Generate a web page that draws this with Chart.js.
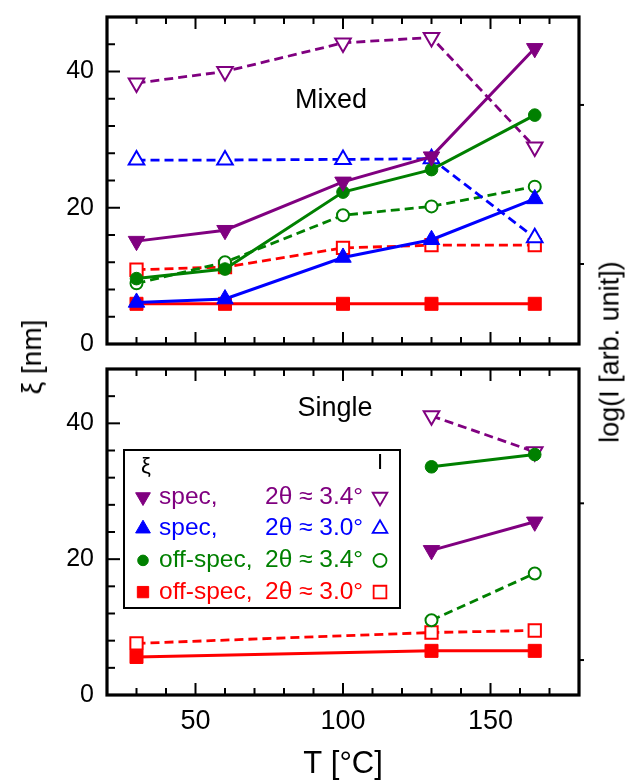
<!DOCTYPE html>
<html>
<head>
<meta charset="utf-8">
<script src="https://cdn.jsdelivr.net/npm/chart.js@4.4.1/dist/chart.umd.min.js"></script>
<style>
  html, body { margin: 0; padding: 0; background: #fff; }
  #wrap { position: relative; width: 631px; height: 783px; font-family: 'Liberation Sans', Arial, sans-serif; }
  .panel { position: absolute; left: 0; width: 631px; }
  #top { top: 0; height: 357px; }
  #bot { top: 357px; height: 426px; }
  .axlab { position: absolute; white-space: nowrap; color: #000; transform: translate(-50%, -50%) rotate(-90deg); }
</style>
</head>
<body>
<div id="wrap">
  <div class="panel" id="top"><canvas id="cTop"></canvas></div>
  <div class="panel" id="bot"><canvas id="cBot"></canvas></div>
  <div class="axlab" style="left:32px; top:357px; font-size:28px;">ξ [nm]</div>
  <div class="axlab" style="left:610px; top:352px; font-size:27px;">log(I [arb. unit])</div>
</div>
<script>
// temperatures (°C)
const T = [30, 60, 100, 130, 165];

// Mixed panel: xi (filled) and intensity (open)
const MIX_SPEC34 = [15.1, 16.7, 23.8, 27.5, 43.4];
const MIX_SPEC30 = [6.1, 6.6, 12.7, 15.3, 21.3];
const MIX_OFF34 = [9.6, 11.0, 22.3, 25.6, 33.6];
const MIX_OFF30 = [5.9, 5.9, 5.9, 5.9, 5.9];
const MIX_I_SPEC34 = [38.3, 40.0, 44.2, 45.0, 28.9];
const MIX_I_SPEC30 = [27.0, 27.0, 27.1, 27.2, 15.6];
const MIX_I_OFF34 = [8.9, 12.0, 18.9, 20.2, 23.1];
const MIX_I_OFF30 = [10.9, 11.3, 14.1, 14.5, 14.5];

// Single panel (null = not measured)
const SGL_SPEC34 = [null, null, null, 21.3, 25.5];
const SGL_OFF34 = [null, null, null, 33.6, 35.4];
const SGL_OFF30 = [5.6, null, null, 6.5, 6.5];
const SGL_I_SPEC34 = [null, null, null, 41.1, 35.8];
const SGL_I_OFF34 = [null, null, null, 11.0, 17.9];
const SGL_I_OFF30 = [7.6, null, null, 9.2, 9.5];

const X_RANGE = [20, 180];
const Y_RANGE = [0, 48];
const X_LABELS = [50, 100, 150];
const Y_LABELS = [0, 20, 40];
const RIGHT_TOP = [-0.503, 1.553];
const RIGHT_BOT = [-0.223, 1.857];

const FONT = "'Liberation Sans', Arial, sans-serif";

const STYLES = {
  spec34: { color: '#800080', pointStyle: 'triangle', rotation: 180 },
  spec30: { color: '#0000ff', pointStyle: 'triangle', rotation: 0 },
  off34:  { color: '#008000', pointStyle: 'circle', rotation: 0 },
  off30:  { color: '#ff0000', pointStyle: 'rect', rotation: 0 },
};
const FILLED_R = { triangle: 9.5, circle: 6.3, rect: 9.2 };
const OPEN_R = { triangle: 9, circle: 6, rect: 8.7 };

const LEGEND_ROWS = [
  { key: 'spec34', name: 'spec,', angle: '2θ ≈ 3.4°' },
  { key: 'spec30', name: 'spec,', angle: '2θ ≈ 3.0°' },
  { key: 'off34', name: 'off-spec,', angle: '2θ ≈ 3.4°' },
  { key: 'off30', name: 'off-spec,', angle: '2θ ≈ 3.0°' },
];

function series(vals, key, open) {
  const st = STYLES[key];
  return {
    data: T.map((x, i) => ({ x, y: vals[i] })).filter(p => p.y !== null),
    borderColor: st.color,
    backgroundColor: st.color,
    borderWidth: open ? 2.8 : 3,
    borderDash: open ? [9, 5] : [],
    pointStyle: st.pointStyle,
    pointRotation: st.rotation,
    pointRadius: (open ? OPEN_R : FILLED_R)[st.pointStyle],
    pointBackgroundColor: open ? '#fff' : st.color,
    pointBorderColor: st.color,
    pointBorderWidth: open ? 2 : 1,
    tension: 0,
    spanGaps: true,
    fill: false,
  };
}

function marker(ctx, st, x, y, r, open) {
  ctx.save();
  ctx.beginPath();
  if (st.pointStyle === 'circle') {
    ctx.arc(x, y, r, 0, Math.PI * 2);
  } else if (st.pointStyle === 'rect') {
    const s = r * Math.SQRT1_2;
    ctx.rect(x - s, y - s, 2 * s, 2 * s);
  } else {
    let a = st.rotation * Math.PI / 180;
    for (let k = 0; k < 3; k++) {
      const px = x + Math.sin(a) * r, py = y - Math.cos(a) * r;
      k ? ctx.lineTo(px, py) : ctx.moveTo(px, py);
      a += 2 * Math.PI / 3;
    }
    ctx.closePath();
  }
  ctx.strokeStyle = st.color;
  ctx.lineWidth = open ? 1.8 : 1;
  ctx.fillStyle = open ? '#fff' : st.color;
  ctx.fill();
  ctx.stroke();
  ctx.restore();
}

// frame with inward ticks, panel name, optional legend
const frameTicks = {
  id: 'frameTicks',
  afterDatasetsDraw(chart, args, opts) {
    const { ctx, chartArea: a, scales } = chart;
    const seg = (x1, y1, x2, y2) => { ctx.beginPath(); ctx.moveTo(x1, y1); ctx.lineTo(x2, y2); ctx.stroke(); };
    ctx.save();
    ctx.strokeStyle = '#000';
    ctx.lineWidth = 2;
    scales.x.ticks.forEach(t => {
      const px = scales.x.getPixelForValue(t.value);
      const len = X_LABELS.includes(t.value) ? 12 : 7;
      seg(px, a.bottom, px, a.bottom - len);
      seg(px, a.top, px, a.top + len);
    });
    scales.y.ticks.forEach(t => {
      const py = scales.y.getPixelForValue(t.value);
      const len = Y_LABELS.includes(t.value) ? 13 : 8;
      seg(a.left, py, a.left + len, py);
    });
    scales.yr.ticks.forEach(t => {
      const py = scales.yr.getPixelForValue(t.value);
      seg(a.right, py, a.right + 5, py);
    });
    ctx.lineWidth = 3.2;
    ctx.strokeRect(a.left, a.top, a.right - a.left, a.bottom - a.top);

    ctx.fillStyle = '#000';
    ctx.font = '27px ' + FONT;
    ctx.textAlign = 'center';
    ctx.textBaseline = 'middle';
    ctx.fillText(opts.text, opts.x, opts.y);

    if (opts.legend) {
      const L = opts.legend;
      ctx.lineWidth = 2;
      ctx.fillStyle = '#fff';
      ctx.fillRect(L.x, L.y, L.w, L.h);
      ctx.strokeRect(L.x, L.y, L.w, L.h);
      ctx.fillStyle = '#000';
      ctx.font = '22px ' + FONT;
      ctx.fillText('ξ', L.x + 22, L.y + 17);
      ctx.fillText('I', L.x + 256, L.y + 13);
      ctx.font = '24.5px ' + FONT;
      LEGEND_ROWS.forEach((row, i) => {
        const st = STYLES[row.key];
        const y = L.y + 47 + i * 31.7;
        const rF = { triangle: 8.5, circle: 5.3, rect: 8 }[st.pointStyle];
        const rO = { triangle: 8.5, circle: 6.5, rect: 9 }[st.pointStyle];
        marker(ctx, st, L.x + 19, y, rF, false);
        marker(ctx, st, L.x + 256, y, rO, true);
        ctx.fillStyle = st.color;
        ctx.textAlign = 'left';
        ctx.fillText(row.name, L.x + 35, y);
        ctx.fillText(row.angle, L.x + 141, y);
      });
    }
    ctx.restore();
  }
};

function options(padTop, xHeight, rightRange, showX, panel) {
  return {
    responsive: true,
    maintainAspectRatio: false,
    animation: false,
    layout: { padding: { top: padTop, left: 0, right: 0, bottom: 0 } },
    plugins: { legend: { display: false }, tooltip: { enabled: false }, frameTicks: panel },
    scales: {
      x: {
        type: 'linear', position: 'bottom', min: X_RANGE[0], max: X_RANGE[1],
        grid: { display: false, drawTicks: false }, border: { display: false },
        ticks: {
          display: showX, stepSize: 10, autoSkip: false, maxRotation: 0, padding: 10,
          color: '#000', font: { family: FONT, size: 27 },
          callback: v => X_LABELS.includes(v) ? v : '',
        },
        title: { display: showX, text: 'T [°C]', color: '#000', font: { family: FONT, size: 31 }, padding: { top: 0, bottom: 0 } },
        afterFit: s => { s.height = xHeight; s.paddingLeft = 0; s.paddingRight = 0; },
      },
      y: {
        type: 'linear', position: 'left', min: Y_RANGE[0], max: Y_RANGE[1],
        grid: { display: false, drawTicks: false }, border: { display: false },
        ticks: {
          stepSize: 4, autoSkip: false, padding: 13, color: '#000', font: { family: FONT, size: 25 },
          callback: v => Y_LABELS.includes(v) ? v : '',
        },
        afterFit: s => { s.width = 107; s.paddingTop = 0; s.paddingBottom = 0; },
      },
      yr: {
        type: 'linear', position: 'right', min: rightRange[0], max: rightRange[1],
        grid: { display: false, drawTicks: false }, border: { display: false },
        ticks: { display: false, stepSize: 1, includeBounds: false },
        afterFit: s => { s.width = 52; s.paddingTop = 0; s.paddingBottom = 0; },
      },
    },
  };
}

new Chart(document.getElementById('cTop'), {
  type: 'line',
  data: {
    datasets: [
      series(MIX_SPEC34, 'spec34', false),
      series(MIX_SPEC30, 'spec30', false),
      series(MIX_OFF34, 'off34', false),
      series(MIX_OFF30, 'off30', false),
      series(MIX_I_SPEC34, 'spec34', true),
      series(MIX_I_SPEC30, 'spec30', true),
      series(MIX_I_OFF34, 'off34', true),
      series(MIX_I_OFF30, 'off30', true),
    ],
  },
  options: options(17, 13, RIGHT_TOP, false, { text: 'Mixed', x: 331, y: 101 }),
  plugins: [frameTicks],
});

new Chart(document.getElementById('cBot'), {
  type: 'line',
  data: {
    datasets: [
      series(SGL_SPEC34, 'spec34', false),
      series(SGL_OFF34, 'off34', false),
      series(SGL_OFF30, 'off30', false),
      series(SGL_I_SPEC34, 'spec34', true),
      series(SGL_I_OFF34, 'off34', true),
      series(SGL_I_OFF30, 'off30', true),
    ],
  },
  options: options(12, 88, RIGHT_BOT, true, {
    text: 'Single', x: 335, y: 52,
    legend: { x: 124, y: 93, w: 276, h: 158 },
  }),
  plugins: [frameTicks],
});
</script>
</body>
</html>
